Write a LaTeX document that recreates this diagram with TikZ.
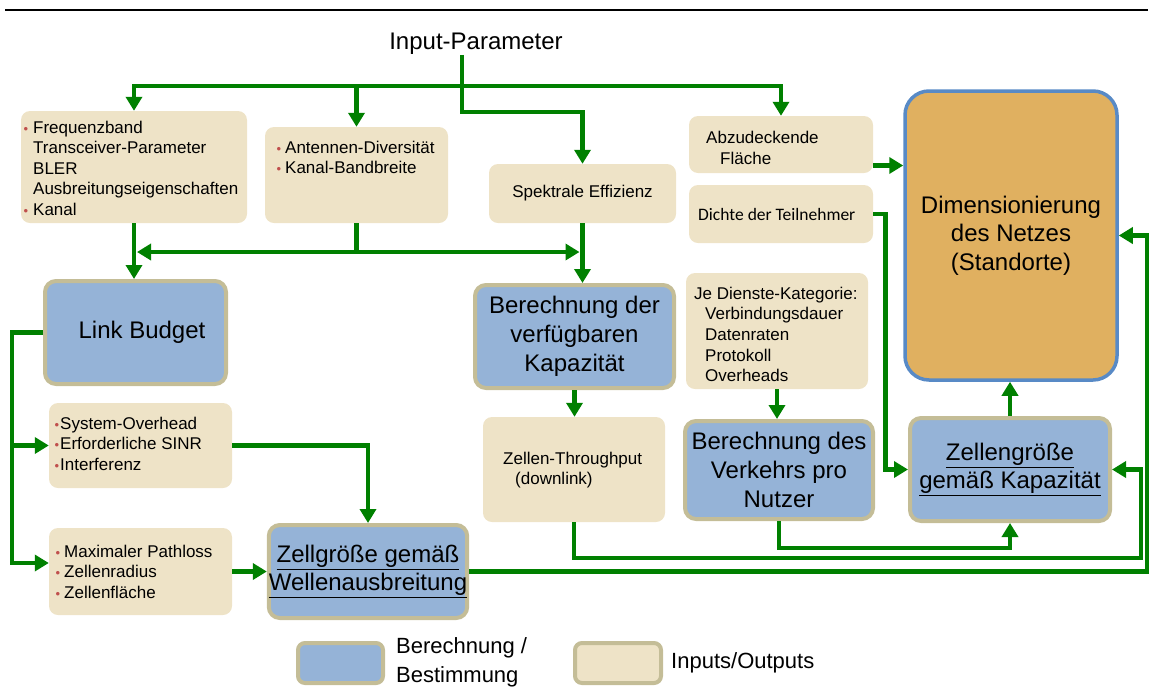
\documentclass[tikz,border=0pt]{standalone}
\usepackage{fontspec}
\setmainfont{Liberation Sans}
\newfontfamily\calibrifont{Carlito}
\usetikzlibrary{arrows.meta,calc}

\definecolor{flowgreen}{RGB}{0,128,0}
\definecolor{inbeige}{RGB}{238,227,199}
\definecolor{calcblue}{RGB}{149,179,215}
\definecolor{calcrim}{RGB}{196,189,151}
\definecolor{dimorange}{RGB}{224,176,96}
\definecolor{dimrim}{RGB}{88,138,198}
\definecolor{bulletred}{RGB}{192,80,77}

\newcommand{\fs}[2]{\fontsize{#1}{#2}\selectfont}
\newcommand{\bul}[1][5pt]{\llap{\textcolor{bulletred}{\fs{13}{13}\textbullet}\hspace{#1}}}

\tikzset{
  inbox/.style={rectangle, rounded corners=9pt, fill=inbeige, draw=none, inner sep=0pt},
  calcbox/.style={rectangle, rounded corners=11pt, fill=calcblue, draw=calcrim, line width=4pt, inner sep=0pt, align=center},
  txt/.style={inner sep=0pt, align=left, anchor=west},
  flow/.style={draw=flowgreen, line width=4.8pt, -{Triangle[width=16pt,length=14pt]}},
}

\begin{document}
\begin{tikzpicture}[x=1pt, y=-1pt]
\useasboundingbox (0,0) rectangle (1151,689);

% header rule
\draw[line width=1.5pt] (5,10) -- (1148,10);

\node[inner sep=0pt, font=\fs{24}{28}] (ip) at (476,44) {Input-Parameter};

% input / output boxes
\node[inbox, minimum width=226pt, minimum height=112pt] (freq) at (134,167) {};
\node[txt, font=\fs{17}{20.5}] (freqtxt) at (33,168)
  {\bul Frequenzband\\Transceiver-Parameter\\BLER\\Ausbreitungseigenschaften\\\bul Kanal};

\node[inbox, minimum width=183pt, minimum height=96pt] (ant) at (356.5,175) {};
\node[txt, font=\fs{17}{20.5}] (anttxt) at (285,157.5)
  {\bul[4pt]Antennen-Diversität\\\bul[4pt]Kanal-Bandbreite};

\node[inbox, minimum width=187pt, minimum height=59pt, font=\fs{17}{20}] (spek) at (582.5,193.5) {Spektrale Effizienz};

\node[inbox, minimum width=184pt, minimum height=57pt] (abz) at (781,144.5) {};
\node[txt, font=\fs{17}{21}] (abztxt) at (706,147.5) {Abzudeckende\\\hspace*{14pt}Fläche};

\node[inbox, minimum width=184pt, minimum height=58pt] (dichte) at (781,214) {};
\node[txt, font=\calibrifont\fs{17.5}{20}] (dichtetxt) at (698,214) {Dichte der Teilnehmer};

\node[inbox, minimum width=182pt, minimum height=116pt] (dienste) at (777,331) {};
\node[txt, font=\fs{17}{20.7}] (dienstetxt) at (694,334.5)
  {Je Dienste-Kategorie:\\\hspace*{11pt}Verbindungsdauer\\\hspace*{11pt}Datenraten\\\hspace*{11pt}Protokoll\\\hspace*{11pt}Overheads};

\node[inbox, minimum width=182pt, minimum height=105pt] (thr) at (574,469.5) {};
\node[txt, font=\fs{17}{20}] (thrtxt) at (503,470) {Zellen-Throughput\\\hspace*{12pt}(downlink)};

\node[inbox, minimum width=183pt, minimum height=85pt] (sysov) at (140.5,445.5) {};
\node[txt, font=\fs{17}{20.5}] (sysovtxt) at (60,443.5)
  {\bul[1pt]System-Overhead\\\bul[1pt]Erforderliche SINR\\\bul[1pt]Interferenz};

\node[inbox, minimum width=183pt, minimum height=87pt] (maxpl) at (140.5,571.5) {};
\node[txt, font=\fs{17}{20.5}] (maxpltxt) at (64,571.5)
  {\bul[4pt]Maximaler Pathloss\\\bul[4pt]Zellenradius\\\bul[4pt]Zellenfläche};

% calculation boxes
\node[calcbox, minimum width=181pt, minimum height=103pt] (link) at (135.5,332.5) {};
\node[inner sep=0pt, font=\fs{24}{28}] (linktxt) at (142,332) {Link Budget};

\node[calcbox, minimum width=199pt, minimum height=103pt, font=\fs{24}{29}] (kap) at (574.5,336.5)
  {Berechnung der\\verfügbaren\\Kapazität};

\node[calcbox, minimum width=188pt, minimum height=98pt, font=\fs{24}{29}] (verk) at (779,470)
  {Berechnung des\\Verkehrs pro\\Nutzer};

\node[calcbox, minimum width=198pt, minimum height=93pt, font=\fs{24}{28.5}] (wellen) at (368,571.5)
  {\underline{Zellgröße gemäß}\\\underline{Wellenausbreitung}};

\node[calcbox, minimum width=200pt, minimum height=103pt, font=\fs{24}{28.5}] (zkap) at (1010,469.5)
  {\underline{Zellengröße}\\\underline{gemäß Kapazität}};

\node[rectangle, rounded corners=24pt, fill=dimorange, draw=dimrim, line width=3.5pt,
      minimum width=212pt, minimum height=289pt, align=center, font=\fs{24}{28.5}] (dim) at (1011,235.5)
  {Dimensionierung\\des Netzes\\(Standorte)};

% legend
\node[calcbox, rounded corners=7pt, minimum width=85pt, minimum height=40pt] (legcalc) at (340.5,663) {};
\node[txt, font=\fs{22}{29}] (legcalctxt) at (396,662.5) {Berechnung /\\Bestimmung};
\node[rectangle, rounded corners=7pt, fill=inbeige, draw=calcrim, line width=4pt,
      minimum width=86pt, minimum height=40pt] (legin) at (618,663) {};
\node[txt, font=\fs{22}{26}] (legintxt) at (671,663) {Inputs/Outputs};

% top distribution of the input parameters
\coordinate (bus) at (462,86);
\coordinate (bend) at (462,112);
\draw[flow] (ip.south -| bus) -- (bus) -| (freq.north);
\draw[flow] (bus) -| (abz.north);
\draw[flow] (bus -| ant.north) -- (ant.north);
\draw[flow] (bus) -- (bend) -| (spek.north);

% shared inputs
\coordinate (split) at (356.5,252);
\draw[flow] (ant.south) |- ($(split -| freq.south)+(3,0)$);
\draw[flow] (split) -- ($(split -| spek.south)+(-3,0)$);
\draw[flow] (freq.south) -- (freq.south |- link.north);
\draw[flow] (spek.south) -- (spek.south |- kap.north);

% right-hand side
\draw[flow] ([yshift=-21pt]abz.east) -- ([yshift=-21pt]abz.east -| dim.west);
\draw[flow] (dichte.east) -- ++(12,0) |- (zkap.west);
\draw[flow] (dienste.south) -- (dienste.south |- verk.north);
\draw[flow] (kap.south) -- (kap.south |- thr.north);
\draw[flow] (zkap.north) -- (zkap.north |- dim.south);

\coordinate (under) at (1010,548);
\draw[flow] (verk.south) |- (under) -- (zkap.south);
\coordinate (inner) at (1141,558);
\draw[flow] (thr.south) |- (inner) |- (zkap.east);
\coordinate (outer) at (1147,571.5);
\draw[flow] (wellen.east) -- (outer) |- (dim.east);

% link budget branch
\coordinate (leftrail) at (12,563);
\draw[flow] (link.west) -| (leftrail) -- (leftrail -| maxpl.west);
\draw[flow] (leftrail |- sysov.west) -- (sysov.west);
\draw[flow] (sysov.east) -| (wellen.north);
\draw[flow] (maxpl.east) -- (wellen.west);

\end{tikzpicture}
\end{document}
